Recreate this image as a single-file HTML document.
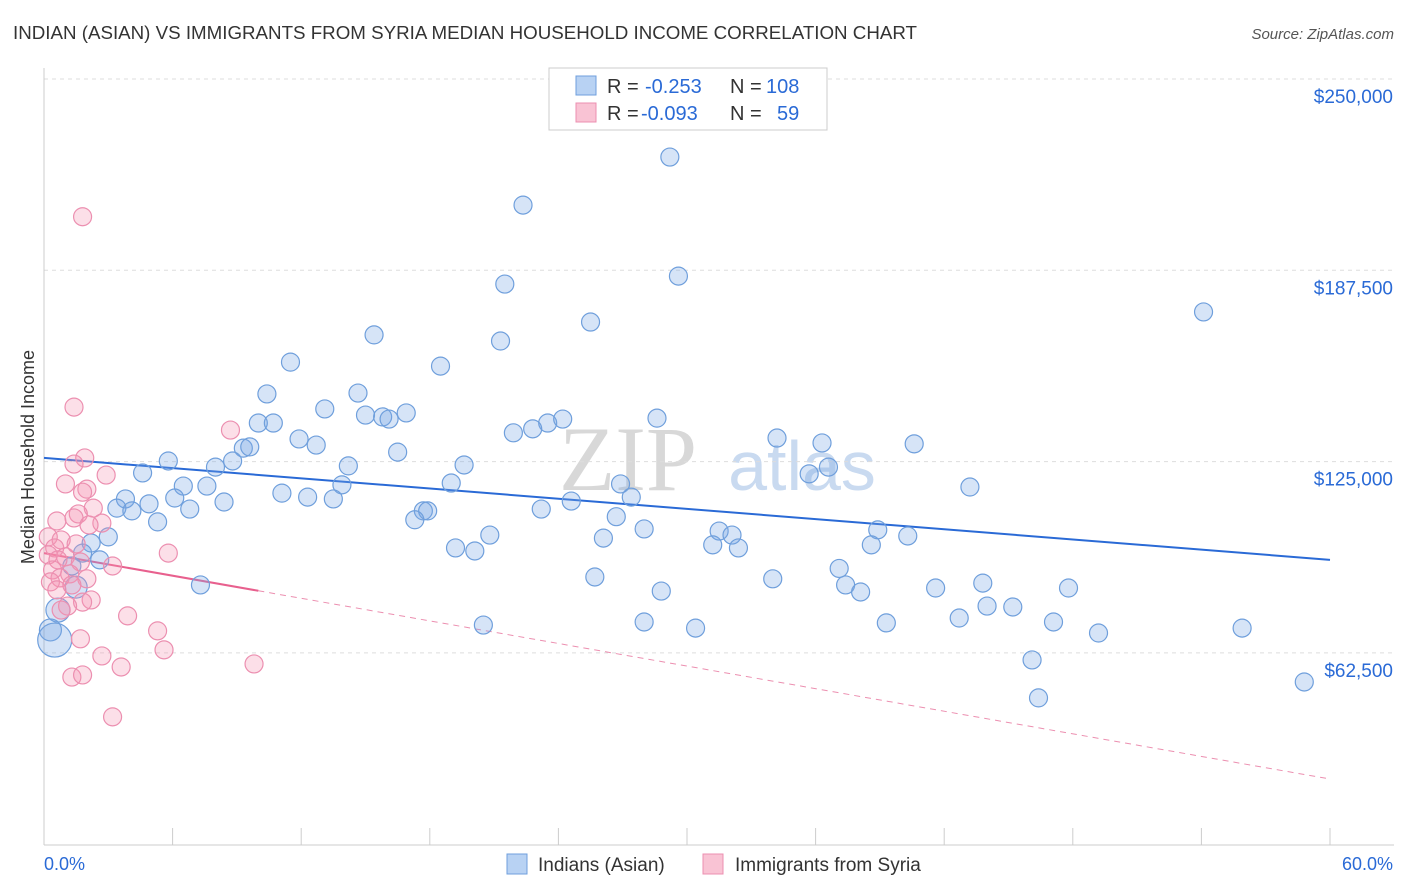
<!DOCTYPE html>
<html><head><meta charset="utf-8"><style>
body{margin:0;background:#fff;font-family:"Liberation Sans",sans-serif;}
svg{display:block}
</style></head><body>
<svg id="chart" width="1406" height="892" xmlns="http://www.w3.org/2000/svg">
<text x="13" y="39" font-size="18" fill="#333" textLength="904" lengthAdjust="spacingAndGlyphs">INDIAN (ASIAN) VS IMMIGRANTS FROM SYRIA MEDIAN HOUSEHOLD INCOME CORRELATION CHART</text>
<text x="1394" y="39" font-size="15" fill="#555" text-anchor="end" font-style="italic">Source: ZipAtlas.com</text>
<text transform="translate(34,457) rotate(-90)" font-size="18" fill="#333" text-anchor="middle">Median Household Income</text>
<g><text x="628" y="490" font-size="92" fill="#d8d8d8" font-family="Liberation Serif,serif" text-anchor="middle">ZIP</text><text x="802" y="490" font-size="70" fill="#c9daf0" text-anchor="middle">atlas</text></g>
<g id="grid"></g><g id="xticks"></g><g id="trends"></g><g id="pts"></g>
<g>
<rect x="549" y="68" width="278" height="62" fill="#fff" stroke="#ccc"/>
<rect x="576" y="76" width="20" height="19" fill="#b8d2f3" stroke="#6f9fdc"/>
<rect x="576" y="103" width="20" height="19" fill="#f9c3d4" stroke="#ec8fb0"/>
<text x="607" y="93" font-size="20" fill="#333">R =</text>
<text x="645" y="93" font-size="20" fill="#2a6ad6">-0.253</text>
<text x="730" y="93" font-size="20" fill="#333">N =</text>
<text x="766" y="93" font-size="20" fill="#2a6ad6">108</text>
<text x="607" y="120" font-size="20" fill="#333">R =</text>
<text x="641" y="120" font-size="20" fill="#2a6ad6">-0.093</text>
<text x="730" y="120" font-size="20" fill="#333">N =</text>
<text x="777" y="120" font-size="20" fill="#2a6ad6">59</text>
</g>
<g>
<rect x="507" y="854" width="20" height="20" fill="#b8d2f3" stroke="#6f9fdc"/>
<text x="538" y="871" font-size="19" fill="#333">Indians (Asian)</text>
<rect x="703" y="854" width="20" height="20" fill="#f9c3d4" stroke="#ec8fb0"/>
<text x="735" y="871" font-size="19" fill="#333">Immigrants from Syria</text>
</g>
<text x="44" y="870" font-size="18" fill="#2a6ad6">0.0%</text>
<text x="1393" y="870" font-size="18" fill="#2a6ad6" text-anchor="end">60.0%</text>
</svg>
<script>
const yTicks=[250000,187500,125000,62500];
const yTickLabels=["$250,000","$187,500","$125,000","$62,500"];
const xTicks=[0,6,12,18,24,30,36,42,48,54,60];
const blueX=[29.2,22.35,21.5,29.6,54.1,25.5,15.4,21.3,11.5,18.5,10.4,14.65,13.1,15.0,15.8,16.1,16.9,10.0,10.7,23.5,24.2,28.6,22.8,21.9,11.9,12.7,34.2,36.3,40.6,9.3,9.6,16.5,5.8,8.8,8.0,14.2,19.6,36.6,35.7,4.6,19.0,13.9,26.9,43.2,6.5,7.6,11.1,12.3,13.5,6.1,3.8,27.4,24.6,8.4,4.9,3.4,4.1,6.8,23.2,17.7,17.9,17.3,26.7,5.3,28.0,38.9,31.5,32.1,20.8,26.1,40.3,3.0,2.2,31.2,32.4,38.6,19.2,20.1,1.8,2.6,1.3,37.1,25.7,34.0,7.3,37.4,43.8,47.8,28.8,38.1,41.6,44.0,45.2,42.7,47.1,28.0,20.5,39.3,30.4,49.2,55.9,46.1,58.8,46.4,0.65,1.5,0.3,0.5];
const blueY=[224.5,208.8,183.0,185.6,173.9,170.6,166.4,164.4,157.5,156.2,147.1,147.4,142.2,140.2,139.6,138.9,140.9,137.6,137.6,137.6,138.9,139.2,135.7,134.4,132.4,130.4,132.7,131.1,130.8,129.4,129.8,128.1,125.2,125.2,123.2,123.6,123.9,123.2,121.0,121.3,118.0,117.4,117.7,116.7,117.0,117.0,114.7,113.4,112.8,113.1,112.8,113.4,112.1,111.8,111.2,109.8,108.9,109.5,109.5,108.9,108.9,106.0,107.0,105.3,103.0,102.7,102.3,101.0,101.0,100.0,100.7,100.4,98.4,97.8,96.8,97.8,96.8,95.8,95.1,92.9,90.9,90.1,87.3,86.7,84.7,84.7,85.3,83.7,82.7,82.4,83.7,77.8,77.5,73.9,72.6,72.6,71.6,72.3,70.6,69.0,70.6,60.2,53.0,47.8,76.5,84.0,70.0,66.7];
const blueR=[9,9,9,9,9,9,9,9,9,9,9,9,9,9,9,9,9,9,9,9,9,9,9,9,9,9,9,9,9,9,9,9,9,9,9,9,9,9,9,9,9,9,9,9,9,9,9,9,9,9,9,9,9,9,9,9,9,9,9,9,9,9,9,9,9,9,9,9,9,9,9,9,9,9,9,9,9,9,9,9,9,9,9,9,9,9,9,9,9,9,9,9,9,9,9,9,9,9,9,9,9,9,9,9,12,11,11,17];
const pinkX=[1.8,1.4,8.7,1.9,1.4,2.9,1.0,2.0,1.8,2.3,1.6,1.4,0.6,2.7,2.1,0.2,0.8,1.5,0.5,5.8,0.2,1.0,0.65,1.7,3.2,0.4,1.2,0.75,2.0,0.3,1.3,0.6,2.2,1.8,1.1,0.8,3.9,5.3,1.7,2.7,5.6,3.6,9.8,1.3,1.8,3.2];
const pinkY=[205.0,142.8,135.3,126.2,124.2,120.6,117.7,116.0,115.0,109.8,107.9,106.6,105.6,104.9,104.3,100.4,99.4,98.1,96.8,95.1,94.5,93.9,92.9,92.2,90.9,89.6,88.3,87.0,86.7,85.7,84.7,83.1,79.8,79.1,77.8,76.5,74.6,69.7,67.1,61.5,63.5,57.9,58.9,54.6,55.3,41.6];
const blueTrend=[126.2,92.9];
const pinkTrend=[95.1,21.3];
const pinkSolidEnd=10;
const NS="http://www.w3.org/2000/svg";
const X=p=>44+p/60*1286;
const Y=v=>79+(250000-v)/62500*191.3;
function mk(tag,attrs,parent){const e=document.createElementNS(NS,tag);for(const k in attrs)e.setAttribute(k,attrs[k]);parent.appendChild(e);return e;}
const grid=document.getElementById('grid');
yTicks.forEach((v,i)=>{
 const l=mk('line',{x1:44,x2:1394,y1:Y(v),y2:Y(v),stroke:'#ddd','stroke-dasharray':'4,4'},grid);
 
 
 const t=mk('text',{x:1393,y:Y(v)+24,'font-size':19,fill:'#2a6ad6','text-anchor':'end'},grid);
 t.textContent=yTickLabels[i];
 
 
});
const xt=document.getElementById('xticks');
const ax=mk('line',{x1:44,x2:1394,y1:845,y2:845,stroke:'#ccc'},xt);


const ay=mk('line',{x1:44,x2:44,y1:68,y2:845,stroke:'#ccc'},xt);


xTicks.forEach(p=>{const l=mk('line',{x1:X(p),x2:X(p),y1:828,y2:845,stroke:'#ccc'},xt);
 
 });
const pts=document.getElementById('pts');
blueX.forEach((p,i)=>{const c=mk('circle',{cx:X(p),cy:Y(blueY[i]*1000),r:blueR[i],fill:'rgba(120,165,230,0.3)',stroke:'#6f9fdc','stroke-width':1.2},pts);
 
 });
pinkX.forEach((p,i)=>{const c=mk('circle',{cx:X(p),cy:Y(pinkY[i]*1000),r:9,fill:'rgba(245,150,180,0.3)',stroke:'#ec8fb0','stroke-width':1.2},pts);
 
 });
const tr=document.getElementById('trends');
const bt=mk('line',{x1:X(0),x2:X(60),y1:Y(blueTrend[0]*1000),y2:Y(blueTrend[1]*1000),stroke:'#2a6ad6','stroke-width':2},tr);


const pv=p=>pinkTrend[0]+(pinkTrend[1]-pinkTrend[0])*p/60;
const pd=mk('line',{x1:X(pinkSolidEnd),x2:X(60),y1:Y(pv(pinkSolidEnd)*1000),y2:Y(pv(60)*1000),stroke:'#ec8fb0','stroke-width':1,'stroke-dasharray':'6,5'},tr);


const ps=mk('line',{x1:X(0),x2:X(pinkSolidEnd),y1:Y(pv(0)*1000),y2:Y(pv(pinkSolidEnd)*1000),stroke:'#e8608e','stroke-width':2},tr);


</script>
</body></html>
